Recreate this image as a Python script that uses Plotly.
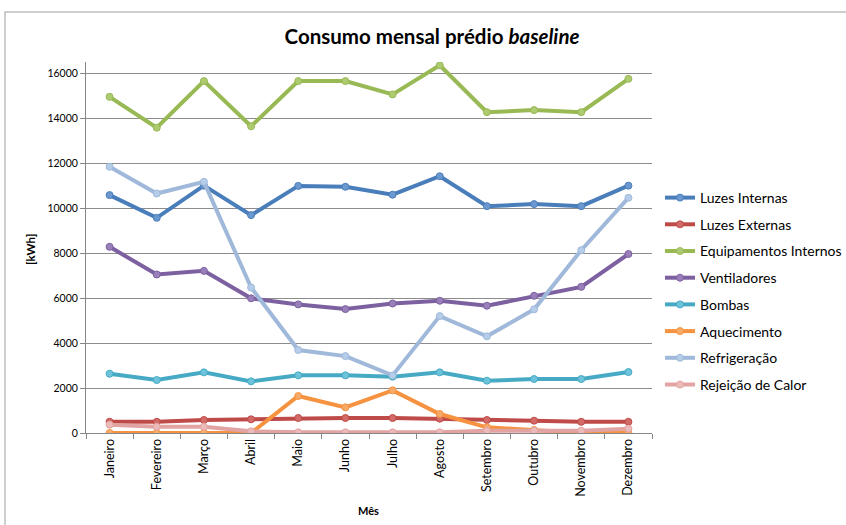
import plotly.graph_objects as go

meses = ["Janeiro", "Fevereiro", "Março", "Abril", "Maio", "Junho", "Julho",
         "Agosto", "Setembro", "Outubro", "Novembro", "Dezembro"]

luzes_internas = [10580, 9570, 11000, 9690, 10990, 10950, 10600, 11420, 10090, 10180, 10090, 11000]
luzes_externas = [500, 496, 578, 608, 667, 667, 667, 637, 578, 548, 496, 496]
equip_internos = [14950, 13580, 15650, 13640, 15650, 15650, 15060, 16350, 14270, 14360, 14270, 15750]
ventiladores = [8280, 7050, 7210, 5990, 5720, 5510, 5760, 5880, 5660, 6100, 6500, 7960]
bombas = [2636, 2356, 2697, 2296, 2564, 2564, 2504, 2697, 2326, 2400, 2400, 2711]
aquecimento = [0, 0, 0, 0, 1644, 1141, 1896, 844, 252, 133, 0, 0]
refrigeracao = [11840, 10650, 11170, 6470, 3690, 3420, 2560, 5200, 4300, 5500, 8130, 10460]
rejeicao = [370, 280, 280, 74, 30, 30, 30, 30, 104, 104, 104, 193]

series = [
    ("Luzes Internas", luzes_internas, "#4A7EBB", "#6C98D0"),
    ("Luzes Externas", luzes_externas, "#BE4B48", "#D26A67"),
    ("Equipamentos Internos", equip_internos, "#98B954", "#AECB70"),
    ("Ventiladores", ventiladores, "#7D60A0", "#9A80BA"),
    ("Bombas", bombas, "#46AAC5", "#6DC4DA"),
    ("Aquecimento", aquecimento, "#F69240", "#F8AB68"),
    ("Refrigeração", refrigeracao, "#A0B9DA", "#B6CDEA"),
    ("Rejeição de Calor", rejeicao, "#E2A4A3", "#ECBAB9"),
]

FONT = "Lato"

fig = go.Figure()
for i, (name, vals, lc, mc) in enumerate(series):
    fig.add_trace(go.Scatter(
        x=meses, y=vals, name=name, mode="lines+markers",
        legendgroup=f"g{i}",
        line=dict(color=lc, width=4),
        marker=dict(symbol="circle", size=7, color=mc, line=dict(color=lc, width=1)),
    ))

L, T, R, B = 86, 62, 652, 433
W, H = 846, 525
pw, ph = R - L, B - T

def px(x):
    return (x - L) / pw

def py(y):
    return (B - y) / ph

fig.update_layout(
    width=W, height=H,
    margin=dict(l=L, r=W - R, t=T, b=H - B, autoexpand=False),
    paper_bgcolor="white", plot_bgcolor="white",
    font=dict(family=FONT, color="#000000"),
    title=dict(text="<b>Consumo mensal prédio <i>baseline</i></b>",
               x=432 / W, xref="container", xanchor="center",
               y=1 - 37 / H, yref="container", yanchor="middle",
               font=dict(family=FONT, size=20.5, color="#000000")),
    showlegend=True,
    legend=dict(x=px(660), xanchor="left", y=py(182), yanchor="top",
                font=dict(family=FONT, size=14, color="#000000"),
                traceorder="grouped", tracegroupgap=5.5,
                bgcolor="rgba(0,0,0,0)", itemwidth=30),
    xaxis=dict(type="category", range=[-0.5, 11.5], showgrid=False,
               showline=True, linecolor="#868686", linewidth=1,
               ticks="outside", tickson="boundaries", ticklen=5, tickcolor="#868686",
               tickangle=-90, tickfont=dict(family=FONT, size=12.5, color="#000000"),
               zeroline=False, automargin=False),
    yaxis=dict(range=[0, 16500], tickvals=[0, 2000, 4000, 6000, 8000, 10000, 12000, 14000, 16000],
               ticktext=["0", "2000", "4000", "6000", "8000", "10000", "12000", "14000", "16000"],
               showgrid=True, gridcolor="#8C8C8C", gridwidth=1,
               showline=True, linecolor="#868686", linewidth=1,
               ticks="outside", ticklen=5, tickcolor="#868686",
               tickfont=dict(family=FONT, size=10.5, color="#000000"),
               zeroline=False, automargin=False),
    annotations=[
        dict(text="<b>Mês</b>", x=px(368), y=py(511), xref="paper", yref="paper",
             showarrow=False, xanchor="center", yanchor="middle",
             font=dict(family=FONT, size=11, color="#000000")),
        dict(text="<b>[kWh]</b>", x=px(31), y=py(250), xref="paper", yref="paper",
             showarrow=False, xanchor="center", yanchor="middle", textangle=-90,
             font=dict(family=FONT, size=11.5, color="#000000")),
    ],
    shapes=[
        dict(type="rect", xref="paper", yref="paper",
             x0=px(5), x1=px(860), y0=py(540), y1=py(12),
             line=dict(color="#BFBFBF", width=1.5), layer="below"),
    ],
)

fig.write_html("out.html")
